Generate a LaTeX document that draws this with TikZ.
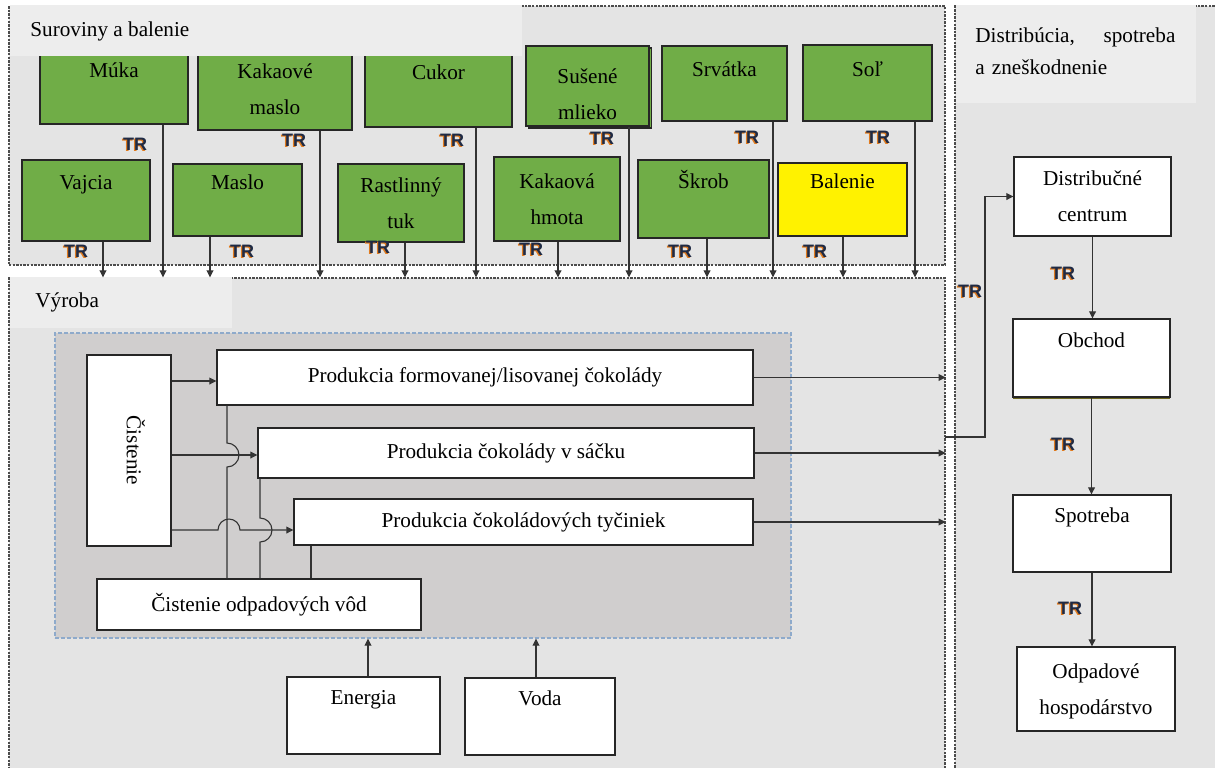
\documentclass[tikz,border=0pt]{standalone}
\usepackage{fontspec}
\setmainfont{Liberation Serif}
\newfontfamily\trfont{Liberation Sans}
\usepackage{graphicx}
\usetikzlibrary{arrows.meta,fit,shadows}

\definecolor{panelgray}{HTML}{E4E4E4}
\definecolor{titlegray}{HTML}{EDEDED}
\definecolor{innergray}{HTML}{D0CECE}
\definecolor{rawgreen}{HTML}{70AD47}
\definecolor{trblue}{HTML}{1F2A44}
\definecolor{trorange}{HTML}{E07B1F}
\definecolor{edgeblue}{HTML}{8EAACB}

% label text: one line above, one below
\newcommand{\twoline}[2]{\begin{tabular}{@{}c@{}}#1\\#2\strut\end{tabular}}
% transport mark with its orange ghost
\newcommand{\trmark}{\makebox[0pt][l]{\hspace*{-0.6pt}\raisebox{-0.3pt}{\color{trorange}TR}}{\color{trblue}TR}}

\tikzset{
    panel/.style={draw=black!70, dash pattern=on 1.2pt off 0.6pt, fill=panelgray, line width=0.6pt, inner sep=0pt},
    inner/.style={draw=edgeblue, dash pattern=on 2pt off 1pt, fill=innergray, line width=0.6pt, inner sep=0pt},
    boxshadow/.style={drop shadow={shadow xshift=0.7pt, shadow yshift=-0.7pt, fill=black!75, opacity=0.9}},
    raw/.style={draw=black!85, fill=rawgreen, line width=0.6pt, inner sep=0pt, boxshadow},
    pack/.style={raw, fill=yellow},
    stage/.style={draw=black!85, fill=white, line width=0.6pt, inner sep=0pt},
    tr/.style={inner sep=0pt, font=\trfont\bfseries\fontsize{9}{9}\selectfont},
    flow/.style={draw=black!80, line width=0.55pt, -{Triangle[length=3.5pt, width=3.4pt]}},
    wire/.style={draw=black!80, line width=0.55pt},
}

\begin{document}
\begin{tikzpicture}[x=0.5pt, y=-0.5pt, font=\fontsize{10.6}{18}\selectfont]
    \clip (0,0) rectangle (1215,767);
    \fill[white] (0,0) rectangle (1215,767);

    % the three stages
    \node[panel, fit={(9,6) (945,265)}] (suroviny) {};
    \node[panel, fit={(9,278) (945,790)}] (vyroba) {};
    \node[panel, fit={(955,6) (1240,790)}] (predaj) {};
    \node[inner, fit={(55,333) (791,638)}] (linka) {};

    % raw materials
    \node[raw, minimum width=74pt, minimum height=34pt] (muka) at (114,88) {\twoline{Múka}{}};
    \node[raw, minimum width=77pt, minimum height=40.5pt] (kmaslo) at (275,89.5) {\twoline{Kakaové}{maslo}};
    \node[raw, minimum width=73.5pt, minimum height=37pt] (cukor) at (438.5,90) {\twoline{Cukor}{}};
    \node[raw, copy shadow={shadow xshift=1.2pt, shadow yshift=-1pt}, text height=26.6pt, text depth=13.3pt, minimum width=61.5pt, minimum height=40pt] (mlieko) at (587.5,86) {\twoline{Sušené}{mlieko}};
    \node[raw, text height=23pt, text depth=13.7pt, minimum width=62.5pt, minimum height=37.5pt] (srvatka) at (724.5,83.5) {\twoline{Srvátka}{}};
    \node[raw, text height=23pt, text depth=13.7pt, minimum width=64.5pt, minimum height=38pt] (sol) at (867.5,83) {\twoline{Soľ}{}};

    \node[raw, minimum width=64pt, minimum height=40.5pt] (vajcia) at (86,200.5) {\twoline{Vajcia}{}};
    \node[raw, minimum width=64.5pt, minimum height=36pt] (maslo) at (237.5,200) {\twoline{Maslo}{}};
    \node[raw, minimum width=63pt, minimum height=39pt] (tuk) at (401,203) {\twoline{Rastlinný}{tuk}};
    \node[raw, minimum width=63pt, minimum height=42pt] (hmota) at (557,199) {\twoline{Kakaová}{hmota}};
    \node[raw, minimum width=65.5pt, minimum height=39pt] (skrob) at (703.5,199) {\twoline{Škrob}{}};
    \node[pack, minimum width=64.5pt, minimum height=36.5pt] (balenie) at (842.5,199.5) {\twoline{Balenie}{}};

    % stage titles
    \fill[titlegray] (10,5) rectangle (522,56);
    \node[anchor=west, inner sep=0pt] (tsur) at (30,31) {Suroviny a balenie};
    \fill[titlegray] (10,277) rectangle (232,328);
    \node[anchor=west, inner sep=0pt] (tvyr) at (35,302) {Výroba};
    \fill[titlegray] (956,5) rectangle (1196,103);
    \node[anchor=north west, inner sep=0pt, text width=100pt, align=left, font=\fontsize{10.6}{16}\selectfont] (tpre) at (975,27) {Distribúcia,\hfill spotreba\\a zneškodnenie};

    % production
    \node[stage, boxshadow, minimum width=42pt, minimum height=95.5pt] (cist) at (129,450.5) {\rotatebox{-90}{\rule[-7pt]{0pt}{7pt}Čistenie}};
    \node[stage, boxshadow, minimum width=268pt, minimum height=27.5pt] (form) at (485,377.5) {Produkcia formovanej/lisovanej čokolády};
    \node[stage, boxshadow, minimum width=248pt, minimum height=25pt] (sacok) at (506,453) {Produkcia čokolády v sáčku};
    \node[stage, boxshadow, minimum width=229.5pt, minimum height=23pt] (tyc) at (523.5,522) {Produkcia čokoládových tyčiniek};
    \node[stage, minimum width=162pt, minimum height=25.5pt] (cov) at (259,604.5) {Čistenie odpadových vôd};
    \node[stage, minimum width=76.5pt, minimum height=38.5pt] (energia) at (363.5,715.5) {\twoline{Energia}{}};
    \node[stage, minimum width=75pt, minimum height=38.5pt] (voda) at (540,716.5) {\twoline{Voda}{}};

    % distribution
    \node[stage, minimum width=78.5pt, minimum height=39.5pt] (dcentrum) at (1092.5,196.5) {\twoline{Distribučné}{centrum}};
    \node[stage, drop shadow={shadow xshift=0pt, shadow yshift=-1pt, fill=olive!70!black, opacity=1}, minimum width=78.5pt, minimum height=39pt] (obchod) at (1091.5,358) {\twoline{Obchod}{}};
    \node[stage, minimum width=79pt, minimum height=38.5pt] (spotreba) at (1092,533.5) {\twoline{Spotreba}{}};
    \node[stage, minimum width=79pt, minimum height=42pt] (odpad) at (1096,689) {\twoline{Odpadové}{hospodárstvo}};

    % deliveries into production
    \draw[flow] (163,0 |- muka.south) -- (163,0 |- vyroba.north);
    \draw[flow] (320,0 |- kmaslo.south) -- (320,0 |- vyroba.north);
    \draw[flow] (476,0 |- cukor.south) -- (476,0 |- vyroba.north);
    \draw[flow] (629,0 |- mlieko.south) -- (629,0 |- vyroba.north);
    \draw[flow] (773,0 |- srvatka.south) -- (773,0 |- vyroba.north);
    \draw[flow] (915,0 |- sol.south) -- (915,0 |- vyroba.north);
    \draw[flow] (103,0 |- vajcia.south) -- (103,0 |- vyroba.north);
    \draw[flow] (210,0 |- maslo.south) -- (210,0 |- vyroba.north);
    \draw[flow] (405,0 |- tuk.south) -- (405,0 |- vyroba.north);
    \draw[flow] (558,0 |- hmota.south) -- (558,0 |- vyroba.north);
    \draw[flow] (707,0 |- skrob.south) -- (707,0 |- vyroba.north);
    \draw[flow] (843,0 |- balenie.south) -- (843,0 |- vyroba.north);

    \node[tr] (tr1) at (135,145) {\trmark};
    \node[tr] (tr2) at (294,141) {\trmark};
    \node[tr] (tr3) at (452,141) {\trmark};
    \node[tr] (tr4) at (602,139) {\trmark};
    \node[tr] (tr5) at (747,138) {\trmark};
    \node[tr] (tr6) at (878,138) {\trmark};
    \node[tr] (tr7) at (76,252) {\trmark};
    \node[tr] (tr8) at (242,252) {\trmark};
    \node[tr] (tr9) at (378,248) {\trmark};
    \node[tr] (tr10) at (531,250) {\trmark};
    \node[tr] (tr11) at (680,252) {\trmark};
    \node[tr] (tr12) at (815,252) {\trmark};

    % cleaning feeds the lines, waste water goes back
    \draw[flow] (cist.east |- 0,381) -- (form.west |- 0,381);
    \draw[flow] (cist.east |- 0,455) -- (sacok.west |- 0,455);
    \draw[flow] (cist.east |- 0,530) -- (218,530) arc[start angle=180, end angle=360, radius=11] -- (tyc.west |- 0,530);
    \draw[wire] (227,0 |- form.south) -- (227,443) arc[start angle=270, end angle=450, radius=12] -- (227,0 |- cov.north);
    \draw[wire] (260,0 |- sacok.south) -- (260,518) arc[start angle=270, end angle=450, radius=12] -- (260,0 |- cov.north);
    \draw[wire] (311,0 |- tyc.south) -- (311,0 |- cov.north);

    \draw[flow] (368,0 |- energia.north) -- (368,0 |- linka.south);
    \draw[flow] (536,0 |- voda.north) -- (536,0 |- linka.south);

    % products out
    \draw[flow] (form.east) -- (form.east -| vyroba.east);
    \draw[flow] (sacok.east) -- (sacok.east -| vyroba.east);
    \draw[flow] (tyc.east) -- (tyc.east -| vyroba.east);

    \coordinate (vout) at (945,437);
    \draw[flow] (vout) -- (985,437) |- (dcentrum.west);
    \draw[flow] (dcentrum.south) -- (dcentrum.south |- obchod.north);
    \draw[flow] (obchod.south) -- (obchod.south |- spotreba.north);
    \draw[flow] (spotreba.south) -- (spotreba.south |- odpad.north);

    \node[tr] (tr13) at (970,292) {\trmark};
    \node[tr] (tr14) at (1063,274) {\trmark};
    \node[tr] (tr15) at (1063,445) {\trmark};
    \node[tr] (tr16) at (1070,609) {\trmark};
\end{tikzpicture}
\end{document}
